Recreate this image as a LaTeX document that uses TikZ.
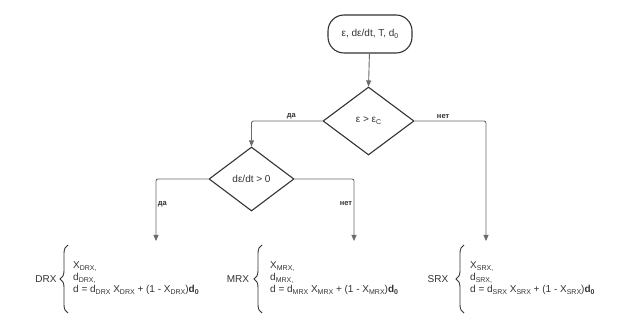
\documentclass[tikz,border=0pt]{standalone}
\usepackage{fontspec}
\setmainfont{Liberation Sans}
\usetikzlibrary{shapes.geometric,arrows.meta,decorations.pathreplacing}
\newcommand{\lsub}[1]{\raisebox{-0.35ex}{\fontsize{7}{7}\selectfont #1}}
\definecolor{lineclr}{HTML}{6B6B6B}
\definecolor{shapeclr}{HTML}{333333}
\definecolor{txtclr}{HTML}{333333}
\begin{document}
\begin{tikzpicture}[x=1pt,y=-1pt,
  every node/.style={text=txtclr,font=\fontsize{10}{12}\selectfont},
  startbox/.style={draw=shapeclr,line width=1.1pt,rectangle,rounded corners=16pt,minimum width=84pt,minimum height=38pt,inner sep=0pt},
  decbox/.style={draw=shapeclr,line width=1.1pt,diamond,inner sep=0pt},
  conn/.style={draw=lineclr,line width=0.9pt,rounded corners=2pt,-{Triangle[length=6pt,width=5pt]}},
  lbl/.style={font=\bfseries\fontsize{7.5}{9}\selectfont,inner sep=1.5pt},
  grp/.style={align=left,anchor=west,inner sep=0pt,font=\fontsize{10}{12.2}\selectfont},
  brc/.style={draw=shapeclr,line width=0.9pt,decorate,decoration={brace,amplitude=8pt,aspect=0.5}}
]
\useasboundingbox (0,0) rectangle (624,331);
\fill[white] (0,0) rectangle (624,331);

\node[startbox] (start) at (370,34) {ε, dε/dt, T, d\lsub{0}};
\node[decbox,minimum width=91pt,minimum height=68pt] (d1) at (368.5,121) {ε > ε\lsub{C}};
\node[decbox,minimum width=85pt,minimum height=64pt] (d2) at (251.5,179) {dε/dt > 0};

\coordinate (drxIn) at (156,241);
\coordinate (mrxIn) at (354,241);
\coordinate (srxIn) at (486,241);

\draw[conn] (start) -- (d1.north);
\draw[conn] (d1.west) -| node[lbl,pos=0.22,above] {да} (d2.north);
\draw[conn] (d1.east) -| node[lbl,pos=0.2,above] {нет} (srxIn);
\draw[conn] (d2.west) -| node[lbl,pos=0.7,right] {да} (drxIn);
\draw[conn] (d2.east) -| node[lbl,pos=0.7,left] {нет} (mrxIn);

% DRX
\node (drxL) at (46,279) {DRX};
\draw[brc] (68,313) -- (68,245);
\node[grp] (drxT) at (73,278) {X\lsub{DRX,}\\d\lsub{DRX,}\\d = d\lsub{DRX} X\lsub{DRX} + (1 - X\lsub{DRX})\textbf{d\lsub{0}}};

% MRX
\node (mrxL) at (238,279) {MRX};
\draw[brc] (262,313) -- (262,245);
\node[grp] (mrxT) at (270,278) {X\lsub{MRX,}\\d\lsub{MRX,}\\d = d\lsub{MRX} X\lsub{MRX} + (1 - X\lsub{MRX})\textbf{d\lsub{0}}};

% SRX
\node (srxL) at (438,279) {SRX};
\draw[brc] (464,313) -- (464,245);
\node[grp] (srxT) at (470,278) {X\lsub{SRX,}\\d\lsub{SRX,}\\d = d\lsub{SRX} X\lsub{SRX} + (1 - X\lsub{SRX})\textbf{d\lsub{0}}};
\end{tikzpicture}
\end{document}
